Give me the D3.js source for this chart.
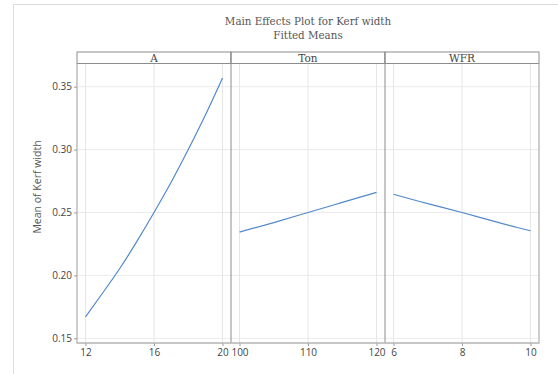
<!DOCTYPE html>
<html>
<head>
<meta charset="utf-8">
<script src="https://cdn.jsdelivr.net/npm/d3@7"></script>
<style>
  body { margin: 0; background: #fff; }
  svg { display: block; }
</style>
</head>
<body>
<svg width="558" height="374"></svg>
<script>
// factor names and levels (fitted means)
var factors = ["A", "Ton", "WFR"];
var levelsA = [12, 13, 14, 15, 16, 17, 18, 19, 20];
var meansA = [0.167, 0.186, 0.2055, 0.227, 0.250, 0.274, 0.300, 0.3275, 0.357];
var levelsTon = [100, 105, 110, 115, 120];
var meansTon = [0.2345, 0.242, 0.250, 0.258, 0.266];
var levelsWFR = [6, 7, 8, 9, 10];
var meansWFR = [0.2645, 0.257, 0.250, 0.2425, 0.2355];

var tickA = [12, 16, 20],
    tickTon = [100, 110, 120],
    tickWFR = [6, 8, 10],
    yTicks = [0.15, 0.20, 0.25, 0.30, 0.35];

var panels = [
  {name: factors[0], x: levelsA, y: meansA, ticks: tickA},
  {name: factors[1], x: levelsTon, y: meansTon, ticks: tickTon},
  {name: factors[2], x: levelsWFR, y: meansWFR, ticks: tickWFR}
];

var svg = d3.select("svg"),
    pLeft = 77, pRight = 539,
    headTop = 52, pTop = 63.5, pBottom = 343,
    pw = (pRight - pLeft) / 3,
    pad = 8.5;

var sans = "'Open Sans', 'Noto Sans', sans-serif",
    serif = "'DejaVu Serif', 'Liberation Serif', serif";

// outer frame
svg.append("rect")
    .attr("x", 13.5).attr("y", 4.5)
    .attr("width", 600).attr("height", 400)
    .attr("fill", "none").attr("stroke", "#dcdcdc");

svg.append("text")
    .attr("x", 308).attr("y", 25)
    .attr("text-anchor", "middle")
    .attr("font-family", serif).attr("font-size", 10.3)
    .attr("fill", "#555")
    .text("Main Effects Plot for Kerf width");

svg.append("text")
    .attr("x", 308).attr("y", 39)
    .attr("text-anchor", "middle")
    .attr("font-family", serif).attr("font-size", 10.3)
    .attr("fill", "#555")
    .text("Fitted Means");

var y = d3.scaleLinear()
    .domain([0.15, 0.35])
    .range([338.3, 86.7]);

// horizontal grid
svg.append("g")
  .selectAll("line")
  .data(yTicks)
  .enter().append("line")
    .attr("x1", pLeft).attr("x2", pRight)
    .attr("y1", function(d) { return y(d); })
    .attr("y2", function(d) { return y(d); })
    .attr("stroke", "#ebebeb");

panels.forEach(function(p, i) {
  var x0 = pLeft + i * pw, x1 = x0 + pw;
  var x = d3.scaleLinear()
      .domain(d3.extent(p.x))
      .range([x0 + pad, x1 - pad]);

  var g = svg.append("g");

  // vertical grid
  g.selectAll(".vg")
    .data(p.ticks)
    .enter().append("line")
      .attr("x1", function(d) { return x(d); })
      .attr("x2", function(d) { return x(d); })
      .attr("y1", pTop).attr("y2", pBottom)
      .attr("stroke", "#e6e6e6");

  // x axis
  var ax = g.append("g")
      .attr("transform", "translate(0," + pBottom + ")")
      .call(d3.axisBottom(x).tickValues(p.ticks).tickSize(3).tickPadding(3).tickFormat(d3.format("d")));
  ax.select(".domain").remove();
  ax.selectAll("line").attr("stroke", "#999");
  ax.selectAll("text")
      .attr("font-family", sans).attr("font-size", 10)
      .attr("fill", "#444");

  // header strip
  g.append("rect")
      .attr("x", x0).attr("y", headTop)
      .attr("width", pw).attr("height", pTop - headTop)
      .attr("fill", "#fff").attr("stroke", "#8c8c8c");
  g.append("text")
      .attr("x", (x0 + x1) / 2).attr("y", pTop - 2)
      .attr("text-anchor", "middle")
      .attr("font-family", serif).attr("font-size", 10.5)
      .attr("fill", "#444")
      .text(p.name);

  // the fitted line
  var line = d3.line()
      .x(function(d, j) { return x(p.x[j]); })
      .y(function(d) { return y(d); })
      .curve(d3.curveNatural);

  g.append("path")
      .attr("d", line(p.y))
      .attr("fill", "none")
      .attr("stroke", "#5289c9")
      .attr("stroke-width", 1.2);
});

// panel dividers
svg.append("g")
  .selectAll("line")
  .data([1, 2])
  .enter().append("line")
    .attr("x1", function(d) { return pLeft + d * pw; })
    .attr("x2", function(d) { return pLeft + d * pw; })
    .attr("y1", headTop).attr("y2", pBottom)
    .attr("stroke", "#8c8c8c");

// frame of the data area
svg.append("path")
    .attr("d", "M" + pLeft + "," + pTop + "V" + pBottom + "H" + pRight + "V" + pTop)
    .attr("fill", "none")
    .attr("stroke", "#b4b4b4")
    .attr("stroke-width", 1.3);

// y axis
var ay = svg.append("g")
    .attr("transform", "translate(" + pLeft + ",0)")
    .call(d3.axisLeft(y).tickValues(yTicks).tickSize(3).tickPadding(2).tickFormat(d3.format(".2f")));
ay.select(".domain").remove();
ay.selectAll("line").attr("stroke", "#999");
ay.selectAll("text")
    .attr("font-family", sans).attr("font-size", 10)
    .attr("fill", "#444");

svg.append("text")
    .attr("transform", "translate(41,187) rotate(-90)")
    .attr("text-anchor", "middle")
    .attr("font-family", sans).attr("font-size", 10.5)
    .attr("fill", "#555")
    .text("Mean of Kerf width");
</script>
</body>
</html>
